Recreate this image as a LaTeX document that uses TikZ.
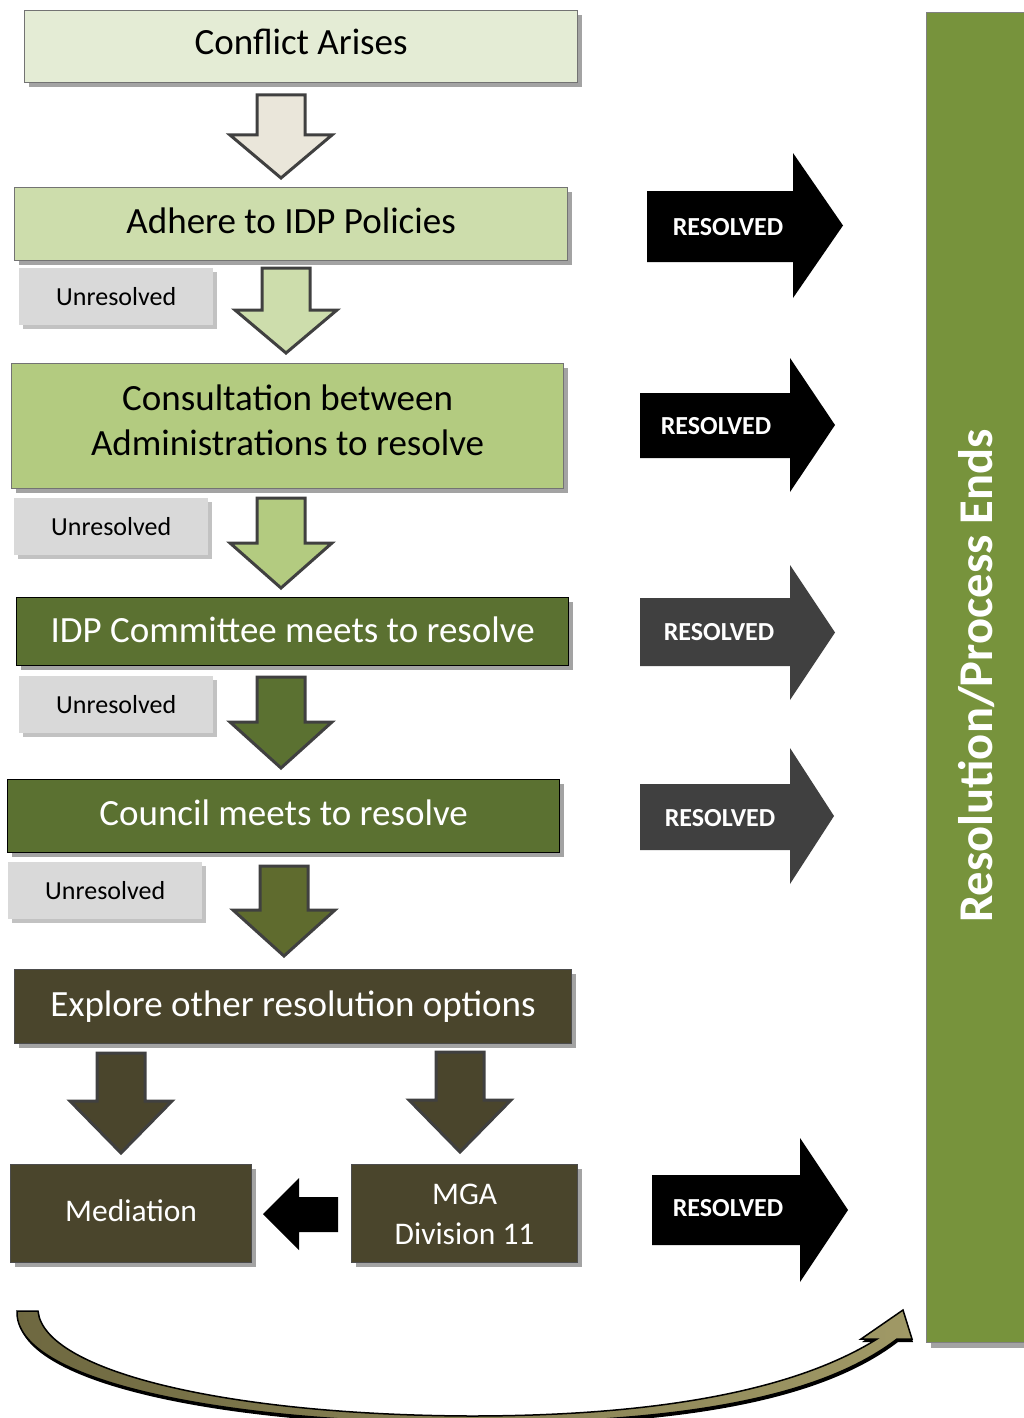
\documentclass[tikz,border=0pt]{standalone}
\usepackage{fontspec}
\setmainfont{Carlito}
\usetikzlibrary{shadows}
\definecolor{cA}{HTML}{E4ECD5}
\definecolor{cAr}{HTML}{EAE6DA}
\definecolor{cB}{HTML}{CDDDAC}
\definecolor{cC}{HTML}{B3CB80}
\definecolor{cD}{HTML}{5B7131}
\definecolor{cE}{HTML}{5F6B2E}
\definecolor{cF}{HTML}{4A452C}
\definecolor{cG}{HTML}{D9D9D9}
\definecolor{barc}{HTML}{77933C}
\definecolor{resgray}{HTML}{404040}
\definecolor{arrb}{HTML}{404040}
\definecolor{curveL}{HTML}{6E6840}
\definecolor{curveR}{HTML}{A09966}
\newcommand\DArrow[5]{%
  \draw[darr,fill=#5] (#1-24,#2) -- (#1+24,#2) -- (#1+24,#3) -- (#1+51,#3) -- (#1,#4) -- (#1-51,#3) -- (#1-24,#3) -- cycle;}
\newcommand\RArrow[8]{% x1 x2 y1 y2 htop hbot tip colour
  \fill[#8] (#1,#3) -- (#2,#3) -- (#2,#5) -- (#7,{(#5+#6)/2}) -- (#2,#6) -- (#2,#4) -- (#1,#4) -- cycle;}
\begin{document}
\begin{tikzpicture}[x=1pt,y=-1pt,
  boxbase/.style={rectangle,anchor=north west,inner sep=0pt,
     drop shadow={shadow xshift=4pt,shadow yshift=-4pt,fill=black!45,opacity=.8}},
  lightbox/.style={boxbase,draw=black!55,line width=1.2pt},
  darkbox/.style={boxbase,draw=black,line width=1.2pt},
  btxt/.style={inner sep=0pt,align=center,text=black,font=\fontsize{37}{45}\selectfont},
  wtxt/.style={btxt,text=white},
  unres/.style={rectangle,anchor=north west,inner sep=0pt,fill=cG,
     minimum width=194pt,minimum height=57pt,font=\fontsize{26}{30}\selectfont,
     drop shadow={shadow xshift=4pt,shadow yshift=-4pt,fill=black!40,opacity=.6}},
  restext/.style={text=white,font=\bfseries\fontsize{26}{30}\selectfont,inner sep=0pt},
  darr/.style={draw=arrb,line width=3pt,line join=miter},
]
\useasboundingbox (0,0) rectangle (1023,1418);

% right bar
\node[rectangle,anchor=north west,inner sep=0pt,fill=barc,draw=black!50,line width=1pt,
  minimum width=100pt,minimum height=1330pt,
  drop shadow={shadow xshift=4pt,shadow yshift=-5pt,fill=black!45,opacity=.8}] (bar) at (926,12) {};
\node[rotate=90,text=white,font=\bfseries\fontsize{48.5}{52}\selectfont,inner sep=0pt] (bartext) at (977,676) {Resolution/Process Ends};

% main boxes
\node[lightbox,fill=cA,minimum width=553pt,minimum height=72pt] (conflict) at (24,10) {};
\node[btxt] (conflict-t) at ([yshift=5pt]conflict.center) {Conflict Arises};
\node[lightbox,fill=cB,minimum width=553pt,minimum height=73pt] (adhere) at (14,187) {};
\node[btxt] (adhere-t) at ([yshift=3.5pt]adhere.center) {Adhere to IDP Policies};
\node[lightbox,fill=cC,minimum width=552pt,minimum height=125pt] (consult) at (11,363) {};
\node[btxt] (consult-t) at ([yshift=6pt]consult.center) {Consultation between\\Administrations to resolve};
\node[darkbox,fill=cD,minimum width=552pt,minimum height=68pt] (idp) at (16,597) {};
\node[wtxt] (idp-t) at ([yshift=2pt]idp.center) {IDP Committee meets to resolve};
\node[darkbox,fill=cD,minimum width=552pt,minimum height=73pt] (council) at (7,779) {};
\node[wtxt] (council-t) at ([yshift=3pt]council.center) {Council meets to resolve};
\node[darkbox,fill=cF,draw=black!70,minimum width=557pt,minimum height=74pt] (explore) at (14,969) {};
\node[wtxt] (explore-t) at (explore.center) {Explore other resolution options};
\node[darkbox,fill=cF,draw=black!70,minimum width=241pt,minimum height=98pt] (mediation) at (10,1164) {};
\node[wtxt,font=\fontsize{31.5}{38}\selectfont] (mediation-t) at ([yshift=3pt]mediation.center) {Mediation};
\node[darkbox,fill=cF,draw=black!70,minimum width=226pt,minimum height=98pt] (mga) at (351,1164) {};
\node[wtxt,font=\fontsize{31.5}{39.5}\selectfont] (mga-t) at ([yshift=-1pt]mga.center) {MGA\\Division 11};

% unresolved labels
\node[unres] (u1) at (19,268) {Unresolved};
\node[unres] (u2) at (14,498) {Unresolved};
\node[unres] (u3) at (19,676) {Unresolved};
\node[unres] (u4) at (8,862) {Unresolved};

% down arrows
\DArrow{281}{95}{135}{178}{cAr}
\DArrow{286}{268}{310}{353}{cB}
\DArrow{281}{498}{543}{588}{cC}
\DArrow{281}{677}{722}{768}{cD}
\DArrow{284}{866}{910}{956}{cE}
\DArrow{121}{1053}{1101}{1153}{cF}
\DArrow{460}{1052}{1100}{1152}{cF}

% left arrow between MGA and Mediation
\fill[black] (338,1197) -- (338,1232) -- (299,1232) -- (299,1250) -- (263,1214) -- (299,1178) -- (299,1197) -- cycle;

% resolved arrows
\RArrow{647}{793}{191}{262}{153}{298}{843}{black}
\node[restext] (r1) at (728,227) {RESOLVED};
\RArrow{640}{790}{393}{458}{358}{492}{835}{black}
\node[restext] (r2) at (716,426) {RESOLVED};
\RArrow{640}{790}{598}{666}{565}{700}{835}{resgray}
\node[restext] (r3) at (719,632) {RESOLVED};
\RArrow{640}{790}{784}{850}{748}{884}{834}{resgray}
\node[restext] (r4) at (720,818) {RESOLVED};
\RArrow{652}{800}{1175}{1245}{1138}{1282}{848}{black}
\node[restext] (r5) at (728,1208) {RESOLVED};

% bottom curved arrow
\path[draw=black,line width=1.5pt,line join=miter,left color=curveL,right color=curveR,
  drop shadow={shadow xshift=1pt,shadow yshift=-3pt,fill=black,opacity=1}]
  (17,1311) -- (38,1311)
  .. controls (44,1372) and (230,1415) .. (470,1416)
  .. controls (680,1416) and (805,1384) .. (877,1339)
  -- (861,1339) -- (903,1310) -- (912,1339) -- (897,1339)
  .. controls (820,1398) and (680,1423) .. (470,1423)
  .. controls (220,1423) and (14,1380) .. (17,1311) -- cycle;
\end{tikzpicture}
\end{document}
